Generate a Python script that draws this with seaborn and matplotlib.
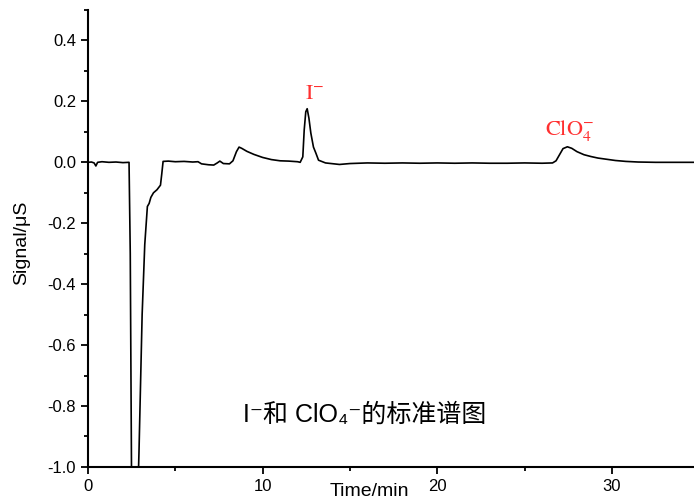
import numpy as np
import pandas as pd
import matplotlib
matplotlib.use("Agg")
import matplotlib.pyplot as plt
import seaborn as sns
from matplotlib.ticker import MultipleLocator

# chromatogram trace (time in min, signal in uS)
time = [0.0, 0.2, 0.35, 0.45, 0.55, 0.8, 1.2, 1.6, 2.0, 2.35,
        2.42, 2.5, 2.85, 2.92, 3.1, 3.25, 3.4, 3.5, 3.6, 3.75,
        3.95, 4.15, 4.22, 4.3, 4.6, 5.0, 5.5, 6.0, 6.3, 6.5,
        6.9, 7.2, 7.4, 7.55, 7.75, 8.1, 8.3, 8.5, 8.65, 8.8,
        9.1, 9.5, 10.0, 10.5, 11.0, 11.5, 12.0, 12.15, 12.3, 12.38,
        12.47, 12.55, 12.65, 12.76, 12.91, 13.05, 13.2, 13.6, 14.4, 15.0,
        16.0, 17.0, 18.0, 19.0, 20.0, 21.0, 22.0, 23.0, 24.0, 25.0,
        26.0, 26.6, 26.8, 27.0, 27.2, 27.45, 27.7, 28.0, 28.4, 28.8,
        29.2, 29.7, 30.2, 30.8, 31.5, 32.5, 33.5, 34.7]
signal = [0.0, 0.001, -0.002, -0.012, 0.0, 0.002, 0.0, 0.001, -0.001, 0.0,
          -0.3, -1.1, -1.1, -0.95, -0.5, -0.27, -0.145, -0.135, -0.115, -0.1,
          -0.09, -0.075, -0.04, 0.003, 0.004, 0.002, 0.003, 0.001, 0.002, -0.005,
          -0.008, -0.009, -0.002, 0.004, -0.004, -0.005, 0.005, 0.035, 0.05, 0.046,
          0.036, 0.026, 0.016, 0.009, 0.005, 0.004, 0.002, 0.0, 0.018, 0.106,
          0.166, 0.176, 0.145, 0.096, 0.05, 0.03, 0.007, -0.002, -0.007, -0.004,
          -0.002, -0.003, -0.002, -0.003, -0.002, -0.003, -0.002, -0.003, -0.003, -0.002,
          -0.003, -0.002, 0.005, 0.025, 0.045, 0.051, 0.046, 0.035, 0.025, 0.019,
          0.014, 0.01, 0.006, 0.003, 0.001, 0.0, 0.0, 0.0]

peak_labels = [r"$\mathrm{I}^{-}$", r"$\mathrm{ClO}_{4}^{-}$"]
peak_pos = [(13.0, 0.225), (27.6, 0.105)]
caption = "I⁻和 ClO₄⁻的标准谱图"

sns.set_style("ticks")
plt.rcParams["font.family"] = ["Liberation Sans", "Noto Sans CJK SC", "DejaVu Sans"]
plt.rcParams["mathtext.fontset"] = "stix"
plt.rcParams["text.color"] = "black"
plt.rcParams["axes.labelcolor"] = "black"

df = pd.DataFrame({"Time": time, "Signal": signal})

fig = plt.figure(figsize=(6.94, 5.01), dpi=100)
ax = fig.add_axes([0.1268, 0.068, 0.8732, 0.912])
sns.lineplot(data=df, x="Time", y="Signal", ax=ax, color="black", linewidth=1.2)

ax.set_xlim(0, 34.7)
ax.set_ylim(-1.0, 0.5)
ax.xaxis.set_major_locator(MultipleLocator(10))
ax.xaxis.set_minor_locator(MultipleLocator(5))
ax.yaxis.set_minor_locator(MultipleLocator(0.1))
ax.set_yticks([-1.0, -0.8, -0.6, -0.4, -0.2, 0.0, 0.2, 0.4])
ax.yaxis.set_major_formatter(matplotlib.ticker.FormatStrFormatter("%.1f"))
ax.tick_params(which="major", direction="out", length=5, width=1.3, labelsize=12,
               colors="black", labelcolor="black")
ax.tick_params(which="minor", direction="out", length=3, width=1.3, colors="black")
for side in ["left", "bottom"]:
    ax.spines[side].set_linewidth(1.5)
    ax.spines[side].set_color("black")
sns.despine(ax=ax)

ax.set_xlabel("Time/min", fontsize=14)
ax.xaxis.set_label_coords(0.465, -0.035)
ax.set_ylabel("Signal/μS", fontsize=14)
ax.yaxis.set_label_coords(-0.095, 0.49)

for lab, (tx, ty) in zip(peak_labels, peak_pos):
    ax.text(tx, ty, lab, color="#ff3030", fontsize=16, ha="center", va="center")

ax.text(8.88, -0.83, caption, fontsize=18, ha="left", va="center",
        family=["Liberation Sans", "Noto Sans CJK SC", "DejaVu Sans"])

fig.savefig("out.png", dpi=100)
